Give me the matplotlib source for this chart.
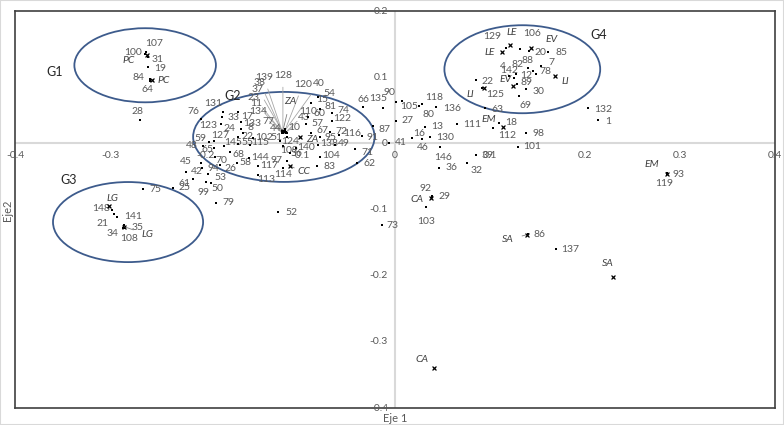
import matplotlib
matplotlib.use('Agg')
import matplotlib.pyplot as plt
from matplotlib.patches import Ellipse, Rectangle

plt.rcParams['font.family'] = ['Lato', 'DejaVu Sans']

# ---------------- data ----------------
obs_ids = ["107", "100", "31", "19", "84", "64", "28",
           "131", "76", "123", "33", "17", "133", "24", "8", "22", "102", "127", "59", "48",
           "145", "55", "115", "65", "68", "45", "94", "42", "53", "61", "99", "50", "25",
           "79", "75", "26", "144", "58", "117", "113", "114", "70",
           "139", "128", "38", "37", "23", "11", "134", "120", "40", "77", "110", "43",
           "44", "10", "51", "124", "109", "140", "56", "97", "104", "83", "138", "49", "95",
           "67", "72", "116", "91", "87", "57", "122", "60", "74", "81", "15", "54", "66",
           "135", "71", "62", "52", "73",
           "90", "105", "118", "80", "136", "27", "13", "111", "16", "46", "130", "41", "146",
           "36", "39", "32", "63", "125", "18", "112", "98", "101", "132", "1",
           "129", "106", "20", "85", "88", "82", "4", "142", "12", "7", "78", "22", "89", "30", "69",
           "148", "141", "21", "35", "34", "108", "103", "92", "29", "86", "137", "93", "119"]
obs_x = [-0.262, -0.263, -0.260, -0.260, -0.258, -0.258, -0.268,
         -0.181, -0.204, -0.183, -0.182, -0.165, -0.162, -0.162, -0.160, -0.165, -0.149, -0.191, -0.196, -0.202,
         -0.180, -0.165, -0.153, -0.191, -0.174, -0.204, -0.203, -0.220, -0.197, -0.213, -0.199, -0.194, -0.234,
         -0.188, -0.265, -0.184, -0.154, -0.166, -0.144, -0.144, -0.118, -0.189,
         -0.119, -0.118, -0.119, -0.118, -0.119, -0.118, -0.119, -0.116, -0.116, -0.118, -0.115, -0.115,
         -0.114, -0.116, -0.114, -0.121, -0.118, -0.104, -0.111, -0.114, -0.079, -0.082, -0.081, -0.063, -0.079,
         -0.088, -0.068, -0.059, -0.035, -0.023, -0.094, -0.066, -0.092, -0.066, -0.079, -0.088, -0.081, -0.034,
         -0.013, -0.042, -0.040, -0.123, -0.014,
         0.001, 0.007, 0.028, 0.025, 0.043, 0.001, 0.032, 0.065, 0.018, 0.028, 0.037, -0.006, 0.047,
         0.046, 0.085, 0.076, 0.095, 0.092, 0.109, 0.103, 0.138, 0.129, 0.203, 0.214,
         0.117, 0.132, 0.141, 0.161, 0.140, 0.127, 0.120, 0.125, 0.145, 0.154, 0.148, 0.085, 0.128, 0.138, 0.131,
         -0.298, -0.293, -0.296, -0.285, -0.286, -0.285, 0.033, 0.039, 0.039, 0.140, 0.169, 0.286, 0.286]
obs_y = [0.138, 0.135, 0.130, 0.115, 0.097, 0.094, 0.035,
         0.047, 0.037, 0.029, 0.040, 0.047, 0.032, 0.022, 0.016, 0.010, 0.008, 0.004, 0.002, -0.004,
         -0.004, -0.001, -0.002, -0.007, -0.013, -0.030, -0.037, -0.043, -0.046, -0.054, -0.058, -0.060, -0.067,
         -0.090, -0.069, -0.033, -0.022, -0.030, -0.034, -0.048, -0.037, -0.021,
         0.019, 0.019, 0.018, 0.017, 0.017, 0.016, 0.016, 0.019, 0.019, 0.017, 0.017, 0.016,
         0.016, 0.022, 0.010, 0.004, -0.004, -0.007, -0.014, -0.027, -0.021, -0.034, -0.002, -0.002, 0.010,
         0.016, 0.017, 0.013, 0.011, 0.026, 0.029, 0.034, 0.040, 0.046, 0.052, 0.061, 0.070, 0.055,
         0.053, -0.008, -0.030, -0.104, -0.124,
         0.063, 0.064, 0.059, 0.056, 0.055, 0.034, 0.025, 0.029, 0.008, 0.007, 0.010, 0.001, -0.005,
         -0.037, -0.018, -0.030, 0.053, 0.084, 0.031, 0.023, 0.016, -0.005, 0.053, 0.035,
         0.144, 0.143, 0.139, 0.138, 0.114, 0.105, 0.102, 0.099, 0.109, 0.117, 0.105, 0.096, 0.090, 0.082, 0.072,
         -0.101, -0.111, -0.107, -0.124, -0.128, -0.128, -0.096, -0.080, -0.081, -0.137, -0.160, -0.045, -0.046]

cat_names = ["PC", "PC", "ZA", "ZA", "CC", "LE", "LE", "EV", "EV", "LI", "LI",
             "EM", "EM", "CA", "CA", "SA", "SA", "LG", "LG"]
cat_x = [-0.261, -0.256, -0.118, -0.100, -0.111, 0.113, 0.121, 0.143, 0.124, 0.168, 0.094,
         0.114, 0.286, 0.038, 0.041, 0.139, 0.229, -0.301, -0.285]
cat_y = [0.134, 0.096, 0.019, 0.010, -0.034, 0.138, 0.149, 0.144, 0.087, 0.102, 0.084,
         0.025, -0.046, -0.083, -0.339, -0.138, -0.202, -0.095, -0.126]

group_names = ["G1", "G2", "G3", "G4"]
group_cx = [-0.263, -0.117, -0.281, 0.134]
group_cy = [0.118, 0.0097, -0.119, 0.112]
group_w = [0.149, 0.191, 0.158, 0.164]
group_h = [0.112, 0.136, 0.121, 0.133]

x_ticks = [-0.4, -0.3, -0.2, -0.1, 0.0, 0.1, 0.2, 0.3, 0.4]
y_ticks = [0.2, 0.1, 0.0, -0.1, -0.2, -0.3, -0.4]
x_title = "Eje 1"
y_title = "Eje2"

# ---------------- layout (label offsets in pixels) ----------------
obs_offsets = [(8, 9), (-12, 2), (10, -2), (12, -1), (-11, 2), (-2, -8), (-3, 9),
               (-10, 9), (-8, 7), (-13, -1), (11, -1), (9, -4), (11, -1), (-12, 0), (7, 5), (9, 0), (11, 1), (7, 5), (-8, 4), (-11, 0),
               (9, 3), (9, 1), (11, 2), (-6, -2), (9, -3), (-15, 2), (11, -1), (11, 0), (13, -4), (-8, -4), (-2, -11), (7, -5), (12, 0),
               (12, 0), (12, -1), (10, -3), (11, 0), (8, 1), (11, 0), (8, -4), (0, -7), (6, -3),
               (-18, 53), (0, 55), (-22, 49), (-25, 43), (-28, 35), (-27, 29), (-24, 21), (18, 46), (34, 47), (-14, 11), (22, 21), (18, 15),
               (-11, 4), (9, 1), (-10, -1), (10, -1), (6, -5), (10, 0), (7, -1), (-10, 1), (11, 2), (12, -1), (11, 1), (9, 1), (11, -1),
               (11, 2), (11, 1), (13, 1), (11, -1), (11, -3), (12, 1), (10, 2), (12, 3), (11, 2), (11, 2), (11, 3), (11, 4), (1, 7),
               (-4, 10), (12, -4), (13, 0), (13, 0), (11, 0),
               (-7, 9), (7, -6), (13, 7), (10, -8), (16, -2), (12, 0), (12, 0), (15, 0), (7, 5), (1, -9), (15, -1), (12, 0), (3, -11),
               (13, 0), (12, 0), (9, -7), (12, -1), (13, -7), (13, 0), (14, -7), (12, -1), (15, 0), (15, -1), (10, -1),
               (-14, 12), (12, 15), (11, -1), (14, 0), (-1, 7), (2, 9), (-6, 9), (-5, 7), (-7, -4), (10, 3), (10, 2), (12, -2), (10, 1), (12, -2), (6, -10),
               (-11, 2), (16, 0), (-11, -9), (13, -2), (-11, -5), (5, -10), (0, -15), (-7, 8), (12, 0), (12, -1), (15, 0), (12, -1), (-3, -10)]
obs_leaders = {42, 43, 44, 45, 46, 47, 48, 49, 50, 51, 52, 53, 115, 131}
cat_offsets = [(-18, -6), (12, -1), (7, 29), (12, -3), (14, -6), (-13, 0), (2, 12), (21, 9), (-7, 6), (11, -6), (-14, -7),
               (-15, 7), (-15, 9), (-14, -1), (-12, 8), (-19, -5), (-5, 13), (3, 8), (23, -8)]
cat_leaders = {2, 4, 15, 18}
group_label_pos = [(-0.358, 0.108), (-0.171, 0.072), (-0.344, -0.055), (0.214, 0.164)]

LBL = '#595959'
LINE = '#a6a6a6'

fig = plt.figure(figsize=(7.84, 4.25), dpi=100)
ax = fig.add_axes([15 / 784, 17 / 425, 760 / 784, 397 / 425])
ax.set_xlim(-0.4, 0.4)
ax.set_ylim(-0.4, 0.2)
ax.set_xticks([])
ax.set_yticks([])
for s in ax.spines.values():
    s.set_color('#404040')
    s.set_linewidth(1.2)

ax.axhline(0, color='#d9d9d9', lw=1.5, zorder=0)
ax.axvline(0, color='#d9d9d9', lw=1.5, zorder=0)

for t in x_ticks:
    lab = "0" if t == 0 else f"{t:.1f}"
    ax.annotate(lab, xy=(t, 0), xytext=(0, -8), textcoords='offset pixels',
                ha='center', va='top', fontsize=7.5, color=LBL, annotation_clip=False)
for t in y_ticks:
    lab = "0" if t == 0 else f"{t:.1f}"
    ax.annotate(lab, xy=(0, t), xytext=(-7, 0), textcoords='offset pixels',
                ha='right', va='center', fontsize=7.5, color=LBL, annotation_clip=False)

# ellipses
for cx, cy, w, h in zip(group_cx, group_cy, group_w, group_h):
    ax.add_patch(Ellipse((cx, cy), w, h, fill=False, ec='#3d5b8c', lw=1.3, zorder=2))
for name, (gx, gy) in zip(group_names, group_label_pos):
    ax.text(gx, gy, name, fontsize=9, color='#262626', ha='center', va='center')

# observations
ax.scatter(obs_x, obs_y, marker='s', s=3.5, color='black', zorder=4, linewidths=0)
for i, (lab, x, y) in enumerate(zip(obs_ids, obs_x, obs_y)):
    dx, dy = obs_offsets[i]
    ap = dict(arrowstyle='-', color=LINE, lw=0.6, shrinkA=3, shrinkB=0) if i in obs_leaders else None
    ax.annotate(lab, xy=(x, y), xytext=(dx, dy), textcoords='offset pixels',
                ha='center', va='center', fontsize=7.5, color=LBL, arrowprops=ap, zorder=3)

# category markers
ax.scatter(cat_x, cat_y, marker='x', s=8, color='black', zorder=4, linewidths=0.9)
for i, (lab, x, y) in enumerate(zip(cat_names, cat_x, cat_y)):
    dx, dy = cat_offsets[i]
    ap = dict(arrowstyle='-', color='#7f7f7f', lw=0.6, shrinkA=4, shrinkB=0) if i in cat_leaders else None
    ax.annotate(lab, xy=(x, y), xytext=(dx, dy), textcoords='offset pixels',
                ha='center', va='center', fontsize=7.5, color='#404040', style='italic',
                arrowprops=ap, zorder=3)

fig.text(395 / 784, 1 - 419 / 425, x_title, ha='center', va='center', fontsize=8, color=LBL)
fig.text(8 / 784, 1 - 210 / 425, y_title, ha='center', va='center', fontsize=8, color=LBL, rotation=90)
fig.patches.append(Rectangle((0, 0), 1, 1, transform=fig.transFigure, fill=False,
                             ec='#d9d9d9', lw=1.5))

fig.savefig('out.png', dpi=100)
